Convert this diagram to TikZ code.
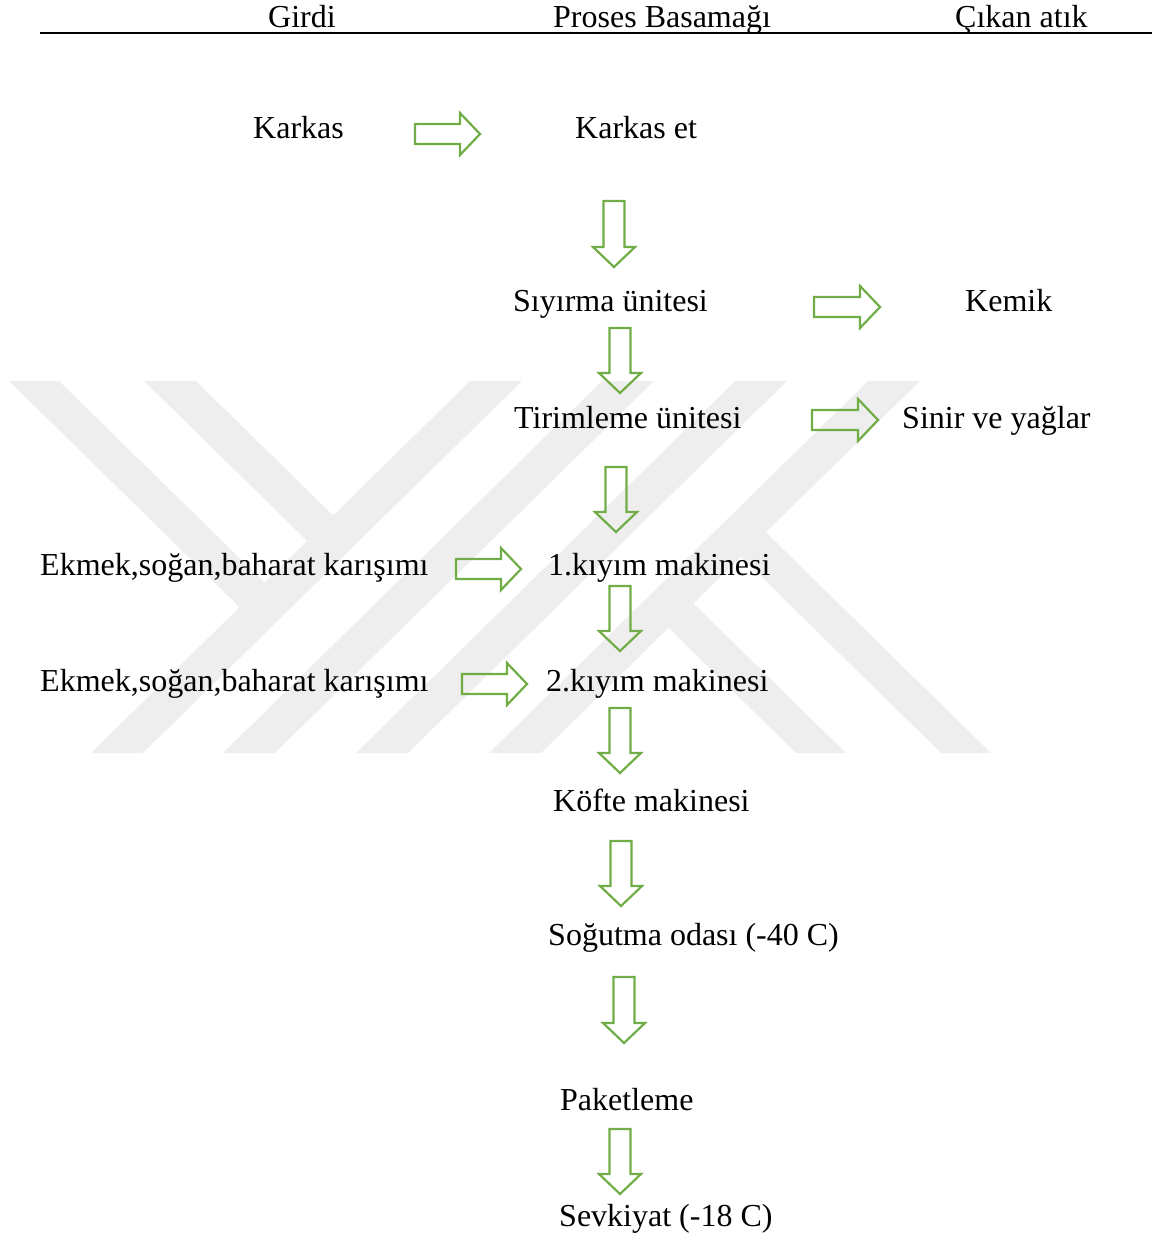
\documentclass[tikz,border=0pt]{standalone}
\usepackage{fontspec}
\setmainfont{Liberation Serif}
\usetikzlibrary{calc}
\definecolor{flowgreen}{RGB}{112,173,71}
\definecolor{wmgray}{RGB}{238,238,238}
\tikzset{
  label/.style={anchor=base west, inner sep=0pt, font=\fontsize{32}{38}\selectfont},
  arrowline/.style={draw=flowgreen, line width=2.2pt, line join=miter},
  blockright/.style={arrowline, to path={
      ($(\tikztostart)+(0,-10)$) -- ($(\tikztotarget)+(-20,-10)$)
      -- ($(\tikztotarget)+(-20,-21)$) -- (\tikztotarget)
      -- ($(\tikztotarget)+(-20,21)$) -- ($(\tikztotarget)+(-20,10)$)
      -- ($(\tikztostart)+(0,10)$) -- cycle}},
  blockdown/.style={arrowline, to path={
      ($(\tikztostart)+(-10.5,0)$) -- ($(\tikztotarget)+(-10.5,-20)$)
      -- ($(\tikztotarget)+(-21,-20)$) -- (\tikztotarget)
      -- ($(\tikztotarget)+(21,-20)$) -- ($(\tikztotarget)+(10.5,-20)$)
      -- ($(\tikztostart)+(10.5,0)$) -- cycle}},
  watermark/.style={fill=wmgray, draw=none}
}
\begin{document}
\begin{tikzpicture}[x=1pt, y=-1pt]
\useasboundingbox (0,0) rectangle (1154,1236);

% faint background emblem made of diagonal bands
\fill[watermark] (470,381) -- (522,381) -- (143,753) -- (91,753) -- cycle;
\fill[watermark] (602,381) -- (654,381) -- (275,753) -- (223,753) -- cycle;
\fill[watermark] (735,381) -- (787,381) -- (408,753) -- (356,753) -- cycle;
\fill[watermark] (868,381) -- (920,381) -- (541,753) -- (489,753) -- cycle;
\fill[watermark] (9,381) -- (59,381) -- (264.5,582.5) -- (239.5,607) -- cycle;
\fill[watermark] (144,381) -- (196,381) -- (333,515.3) -- (307,540.8) -- cycle;
\fill[watermark] (796,753) -- (846,753) -- (693.3,603.3) -- (668.3,627.8) -- cycle;
\fill[watermark] (941,753) -- (991,753) -- (765.8,532.2) -- (740.8,556.7) -- cycle;

% column headings and rule
\node[label] (hgirdi) at (268,28) {Girdi};
\node[label] (hproses) at (553,28) {Proses Basamağı};
\node[label] (hatik) at (955,28) {Çıkan atık};
\draw[line width=1.5pt] (40,33) -- (1152,33);

% texts
\node[label] (karkas) at (253,139) {Karkas};
\node[label] (karkaset) at (575,139) {Karkas et};
\node[label] (siyirma) at (513,311) {Sıyırma ünitesi};
\node[label] (kemik) at (965,311) {Kemik};
\node[label] (tirim) at (514,428) {Tirimleme ünitesi};
\node[label] (sinir) at (902,428) {Sinir ve yağlar};
\node[label] (ekmekA) at (40,575) {Ekmek,soğan,baharat karışımı};
\node[label] (kiyimA) at (548,575) {1.kıyım makinesi};
\node[label] (ekmekB) at (40,691) {Ekmek,soğan,baharat karışımı};
\node[label] (kiyimB) at (546,691) {2.kıyım makinesi};
\node[label] (kofte) at (553,811) {Köfte makinesi};
\node[label] (sogutma) at (548,945) {Soğutma odası (-40 C)};
\node[label] (paket) at (560,1110) {Paketleme};
\node[label] (sevk) at (559,1226) {Sevkiyat (-18 C)};

% arrow end points
\coordinate (r1s) at (415,134);  \coordinate (r1e) at (480,134);
\coordinate (r2s) at (814,307);  \coordinate (r2e) at (880,307);
\coordinate (r3s) at (812,420);  \coordinate (r3e) at (878,420);
\coordinate (r4s) at (456,569);  \coordinate (r4e) at (521,569);
\coordinate (r5s) at (462,684);  \coordinate (r5e) at (527,684);
\coordinate (d1s) at (614,201);  \coordinate (d1e) at (614,267);
\coordinate (d2s) at (620,328);  \coordinate (d2e) at (620,393);
\coordinate (d3s) at (616,467);  \coordinate (d3e) at (616,532);
\coordinate (d4s) at (620,586);  \coordinate (d4e) at (620,651);
\coordinate (d5s) at (620,708);  \coordinate (d5e) at (620,773);
\coordinate (d6s) at (621,841);  \coordinate (d6e) at (621,906);
\coordinate (d7s) at (624,977);  \coordinate (d7e) at (624,1043);
\coordinate (d8s) at (620,1129); \coordinate (d8e) at (620,1194);

% hollow block arrows
\draw[blockright] (r1s) to (r1e);
\draw[blockright] (r2s) to (r2e);
\draw[blockright] (r3s) to (r3e);
\draw[blockright] (r4s) to (r4e);
\draw[blockright] (r5s) to (r5e);
\draw[blockdown] (d1s) to (d1e);
\draw[blockdown] (d2s) to (d2e);
\draw[blockdown] (d3s) to (d3e);
\draw[blockdown] (d4s) to (d4e);
\draw[blockdown] (d5s) to (d5e);
\draw[blockdown] (d6s) to (d6e);
\draw[blockdown] (d7s) to (d7e);
\draw[blockdown] (d8s) to (d8e);
\end{tikzpicture}
\end{document}
